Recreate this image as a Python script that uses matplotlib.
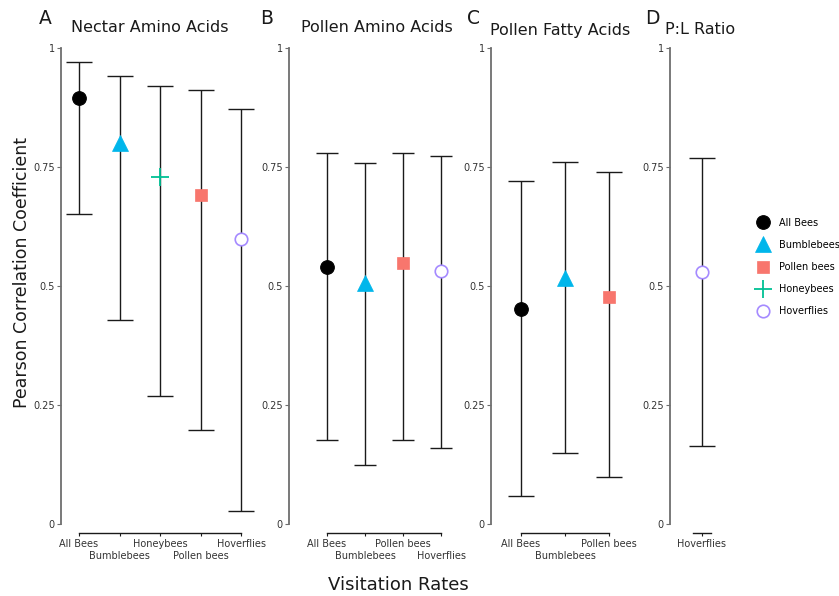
import matplotlib
matplotlib.use("Agg")
import matplotlib.pyplot as plt
from matplotlib.lines import Line2D
import matplotlib.transforms as mtransforms

plt.rcParams['font.family'] = ['DejaVu Sans']

# ---------------- data ----------------
nectar_groups = ["All Bees", "Bumblebees", "Honeybees", "Pollen bees", "Hoverflies"]
nectar_est = [0.895, 0.800, 0.729, 0.691, 0.599]
nectar_lo = [0.651, 0.429, 0.269, 0.197, 0.027]
nectar_hi = [0.971, 0.941, 0.920, 0.912, 0.872]

pollen_aa_groups = ["All Bees", "Bumblebees", "Pollen bees", "Hoverflies"]
pollen_aa_est = [0.540, 0.506, 0.548, 0.532]
pollen_aa_lo = [0.176, 0.124, 0.176, 0.160]
pollen_aa_hi = [0.779, 0.758, 0.779, 0.773]

pollen_fa_groups = ["All Bees", "Bumblebees", "Pollen bees"]
pollen_fa_est = [0.452, 0.517, 0.477]
pollen_fa_lo = [0.059, 0.149, 0.099]
pollen_fa_hi = [0.721, 0.761, 0.740]

pl_groups = ["Hoverflies"]
pl_est = [0.529]
pl_lo = [0.164]
pl_hi = [0.769]

panel_titles = ["Nectar Amino Acids", "Pollen Amino Acids", "Pollen Fatty Acids", "P:L Ratio"]
panel_letters = ["A", "B", "C", "D"]
y_ticks = [0, 0.25, 0.5, 0.75, 1]
y_tick_labels = ["0", "0.25", "0.5", "0.75", "1"]
legend_order = ["All Bees", "Bumblebees", "Pollen bees", "Honeybees", "Hoverflies"]

# ---------------- styles ----------------
styles = {
    "All Bees":    dict(marker="o", ms=9.8, mfc="black", mec="black", mew=0.8),
    "Bumblebees":  dict(marker="^", ms=11.0, mfc="#00B6EB", mec="#00B6EB", mew=0.5),
    "Honeybees":   dict(marker="+", ms=13.5, mfc="#00C094", mec="#00C094", mew=1.3),
    "Pollen bees": dict(marker="s", ms=9.0, mfc="#F8766D", mec="#F8766D", mew=0.5),
    "Hoverflies":  dict(marker="o", ms=9.0, mfc="white", mec="#A58AFF", mew=1.2),
}

W, H = 839, 596
fig = plt.figure(figsize=(W / 100, H / 100), dpi=100)

# pixel layout: (left px, right px, first category px, spacing px, cap half px)
layout = [
    (61, 259, 79, 40.5, 13.3),
    (289, 471, 327, 38.0, 10.8),
    (491, 644, 521, 44.0, 13.5),
    (670, 734, 702, 32.0, 13.5),
]
panels = [
    (nectar_groups, nectar_est, nectar_lo, nectar_hi),
    (pollen_aa_groups, pollen_aa_est, pollen_aa_lo, pollen_aa_hi),
    (pollen_fa_groups, pollen_fa_est, pollen_fa_lo, pollen_fa_hi),
    (pl_groups, pl_est, pl_lo, pl_hi),
]

px_per_unit = 476.0
y_bottom_px, y_top_px = 533, 44
ax_h_px = y_bottom_px - y_top_px
ylim = (-(y_bottom_px - 524) / px_per_unit, 1 + (48 - y_top_px) / px_per_unit)

axis_grey = "#6e6e6e"
for i, ((lp, rp, c0, sp, caph), (groups, est, lo, hi)) in enumerate(zip(layout, panels)):
    ax = fig.add_axes([lp / W, 1 - y_bottom_px / H, (rp - lp) / W, ax_h_px / H])
    xs = list(range(len(groups)))
    ax.set_xlim(-(c0 - lp) / sp, (rp - c0) / sp)
    ax.set_ylim(*ylim)
    for x, g, e, l, h in zip(xs, groups, est, lo, hi):
        ax.errorbar([x], [e], yerr=[[e - l], [h - e]], fmt="none", ecolor="#1a1a1a",
                    elinewidth=1.0, capsize=caph * 0.72, capthick=1.0, zorder=2)
        ax.plot([x], [e], linestyle="none", zorder=3, **styles[g])
    for s in ["top", "right"]:
        ax.spines[s].set_visible(False)
    ax.spines["left"].set_bounds(0, 1)
    ax.spines["left"].set_color(axis_grey)
    ax.spines["left"].set_linewidth(1.3)
    if len(groups) > 1:
        ax.spines["bottom"].set_bounds(0, len(groups) - 1)
    else:
        ax.spines["bottom"].set_bounds(-0.27, 0.27)
    ax.spines["bottom"].set_color("#1a1a1a")
    ax.spines["bottom"].set_linewidth(1.0)
    ax.set_yticks(y_ticks)
    ax.set_yticklabels(y_tick_labels)
    ax.set_xticks(xs)
    ax.set_xticklabels([])
    trans = mtransforms.blended_transform_factory(ax.transData, ax.transAxes)
    for k, g in enumerate(groups):
        ypx = 556 if k % 2 else 544
        ax.text(k, -(ypx - y_bottom_px) / ax_h_px, g, transform=trans, ha="center",
                va="center", fontsize=7, color="#333333", clip_on=False)
    ax.tick_params(axis="y", length=3, width=0.8, color=axis_grey, labelsize=7,
                   labelcolor="#333333", pad=1.5)
    ax.tick_params(axis="x", length=2.5, width=0.8, color="#1a1a1a")
    ax.patch.set_alpha(0)

# titles and letters
title_pos = [(150, 28), (377, 28), (560, 30), (700, 30)]
letter_pos = [(45, 19), (267, 19), (474, 19), (652, 19)]
for t, (tx, ty), l, (lx, ly) in zip(panel_titles, title_pos, panel_letters, letter_pos):
    fig.text(tx / W, 1 - ty / H, t, ha="center", va="center", fontsize=11.5, color="#1a1a1a")
    fig.text(lx / W, 1 - ly / H, l, ha="center", va="center", fontsize=13.5, color="#1a1a1a")

fig.text(22 / W, 1 - 273 / H, "Pearson Correlation Coefficient", rotation=90,
         ha="center", va="center", fontsize=12.5, color="#1a1a1a")
fig.text(398 / W, 1 - 585 / H, "Visitation Rates", ha="center", va="center",
         fontsize=13, color="#1a1a1a")

handles = [Line2D([], [], linestyle="none", **styles[g]) for g in legend_order]
fig.legend(handles, legend_order, loc="center left", bbox_to_anchor=(750 / W, 1 - 267 / H),
           frameon=False, fontsize=7, labelspacing=1.25, handletextpad=0.9,
           handlelength=1.6, borderpad=0)

fig.savefig("out.png", dpi=100)
